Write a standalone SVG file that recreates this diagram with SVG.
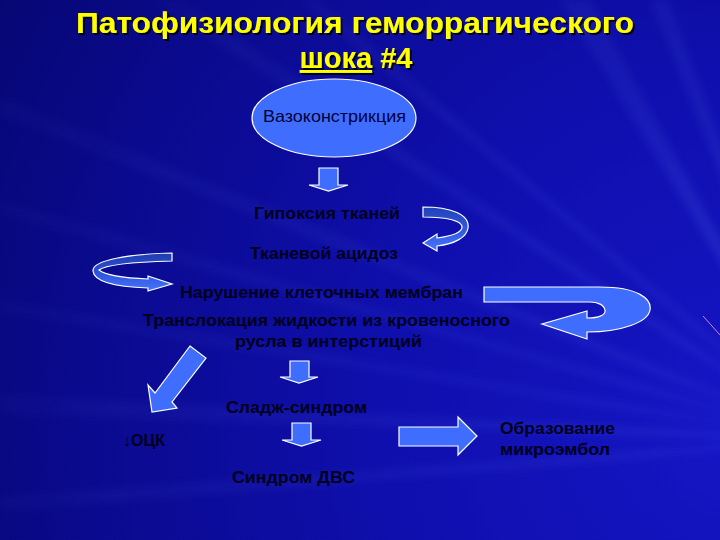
<svg xmlns="http://www.w3.org/2000/svg" width="720" height="540" viewBox="0 0 720 540">
<defs>
<radialGradient id="bg" gradientUnits="userSpaceOnUse" cx="740" cy="420" r="880">
<stop offset="0" stop-color="#1616c6"/>
<stop offset="0.4" stop-color="#0f0fae"/>
<stop offset="0.75" stop-color="#0a0a8e"/>
<stop offset="1" stop-color="#060670"/>
</radialGradient>
<radialGradient id="rayfade" gradientUnits="userSpaceOnUse" cx="830" cy="440" r="850">
<stop offset="0" stop-color="#7f9cff" stop-opacity="0.22"/>
<stop offset="0.45" stop-color="#6f8fff" stop-opacity="0.09"/>
<stop offset="1" stop-color="#6f8fff" stop-opacity="0.03"/>
</radialGradient>
<linearGradient id="curlA" x1="0" y1="0" x2="0" y2="1">
<stop offset="0" stop-color="#2242b8"/>
<stop offset="0.5" stop-color="#3058e0"/>
<stop offset="1" stop-color="#4676ff"/>
</linearGradient>
<linearGradient id="curlB" x1="0" y1="0" x2="0" y2="1">
<stop offset="0" stop-color="#1f3cae"/>
<stop offset="0.5" stop-color="#2c52d8"/>
<stop offset="1" stop-color="#4676ff"/>
</linearGradient>
<filter id="soft" x="-10%" y="-10%" width="120%" height="120%">
<feGaussianBlur stdDeviation="4"/>
</filter>
<filter id="shadow" x="-5%" y="-20%" width="110%" height="150%">
<feDropShadow dx="2" dy="2" stdDeviation="0.6" flood-color="#000000" flood-opacity="0.9"/>
</filter>
</defs>
<style>
.title{font-family:"Liberation Sans",Arial,sans-serif;font-weight:bold;font-size:29px;fill:#ffff00;filter:url(#shadow)}
.lbl{font-family:"Liberation Sans",Arial,sans-serif;font-weight:bold;font-size:16px;fill:#00001c}
.ell{font-family:"Liberation Sans",Arial,sans-serif;font-size:17px;fill:#00003a}
.blk{fill:#3f6eff;stroke:#ffffff;stroke-width:1.2;stroke-linejoin:miter}
.ray{fill:url(#rayfade)}
</style>

<!-- background -->
<rect x="0" y="0" width="720" height="540" fill="url(#bg)"/>
<g filter="url(#soft)">
<polygon class="ray" points="830,440 0,394 0,414"/>
<polygon class="ray" points="830,440 0,496 0,512"/>
<polygon class="ray" points="830,440 0,96 0,116"/>
<polygon class="ray" points="830,440 150,0 182,0"/>
<polygon class="ray" points="830,440 300,0 318,0"/>
<polygon class="ray" points="830,440 560,0 590,0"/>
<polygon class="ray" points="830,440 650,0 668,0"/>
<polygon class="ray" points="830,440 0,200 0,214"/>
<polygon class="ray" points="830,440 0,300 0,312"/>
</g>
<line x1="703" y1="316" x2="720" y2="335" stroke="#d080e0" stroke-width="1"/>

<!-- title -->
<g id="title">
<text class="title" x="355" y="33" text-anchor="middle" textLength="558" lengthAdjust="spacingAndGlyphs">Патофизиология геморрагического</text>
<text class="title" x="356" y="68" text-anchor="middle"><tspan text-decoration="underline">шока</tspan> #4</text>
</g>

<!-- connectors -->
<g id="connectors">
<polygon class="blk" points="319,168 338,168 338,185 348,185 328.5,191 309,185 319,185"/>
<path fill="url(#curlA)" stroke="#ffffff" stroke-width="1.2" d="M423,207 C450,207 470,214 468,228 C467,237 455,244 437,246 L437,251 L423,243 L437,234 L437,238 C452,236 462,232 462,227 C462,221 448,217 423,217 Z"/>
<path fill="url(#curlB)" stroke="#ffffff" stroke-width="1.2" d="M172,253 L172,261 C135,262 105,265 99,270 C105,275 125,278 148,279 L148,276 L172,284 L148,291 L148,288 C120,287 94,283 93,271 C92,260 130,254 172,253 Z"/>
<path class="blk" d="M484,287 L600,287 C638,287 652,299 650,310 C648,322 622,332 587,332 L587,339 L542,324 L587,311 L587,318 C599,318 606,315 605,310 C604,305 598,302 590,302 L484,302 Z"/>
<polygon class="blk" points="190,346 206,358 172,402 177,408 152,412 148,385 155,393"/>
<polygon class="blk" points="290,361 309,361 309,377 318,377 299,383 280,377 290,377"/>
<polygon class="blk" points="292,423 311,423 311,440 321,440 301.5,446 282,440 292,440"/>
<polygon class="blk" points="399,427 458,427 458,417 477,436 458,455 458,446 399,446"/>
</g>

<!-- nodes -->
<g id="vasoconstriction">
<ellipse cx="334" cy="118" rx="82" ry="39" fill="#3f6eff" stroke="#ffffff" stroke-width="1.2"/>
<text class="ell" x="334.5" y="122" text-anchor="middle" textLength="143" lengthAdjust="spacingAndGlyphs">Вазоконстрикция</text>
</g>
<g id="hypoxia">
<text class="lbl" x="327" y="219" text-anchor="middle" textLength="146" lengthAdjust="spacingAndGlyphs">Гипоксия тканей</text>
</g>
<g id="acidosis">
<text class="lbl" x="324" y="259" text-anchor="middle" textLength="148" lengthAdjust="spacingAndGlyphs">Тканевой ацидоз</text>
</g>
<g id="membranes">
<text class="lbl" x="321.5" y="298" text-anchor="middle" textLength="283" lengthAdjust="spacingAndGlyphs">Нарушение клеточных мембран</text>
</g>
<g id="translocation">
<text class="lbl" x="326.5" y="326" text-anchor="middle" textLength="367" lengthAdjust="spacingAndGlyphs">Транслокация жидкости из кровеносного</text>
<text class="lbl" x="328.5" y="347" text-anchor="middle" textLength="187" lengthAdjust="spacingAndGlyphs">русла в интерстиций</text>
</g>
<g id="sludge">
<text class="lbl" x="296.5" y="413" text-anchor="middle" textLength="141" lengthAdjust="spacingAndGlyphs">Сладж-синдром</text>
</g>
<g id="bcv">
<text class="lbl" x="123" y="446" textLength="42" lengthAdjust="spacingAndGlyphs">↓ОЦК</text>
</g>
<g id="dic">
<text class="lbl" x="293.5" y="483" text-anchor="middle" textLength="123" lengthAdjust="spacingAndGlyphs">Синдром ДВС</text>
</g>
<g id="microemboli">
<text class="lbl" x="500" y="434" textLength="115" lengthAdjust="spacingAndGlyphs">Образование</text>
<text class="lbl" x="500" y="455" textLength="110" lengthAdjust="spacingAndGlyphs">микроэмбол</text>
</g>
</svg>
